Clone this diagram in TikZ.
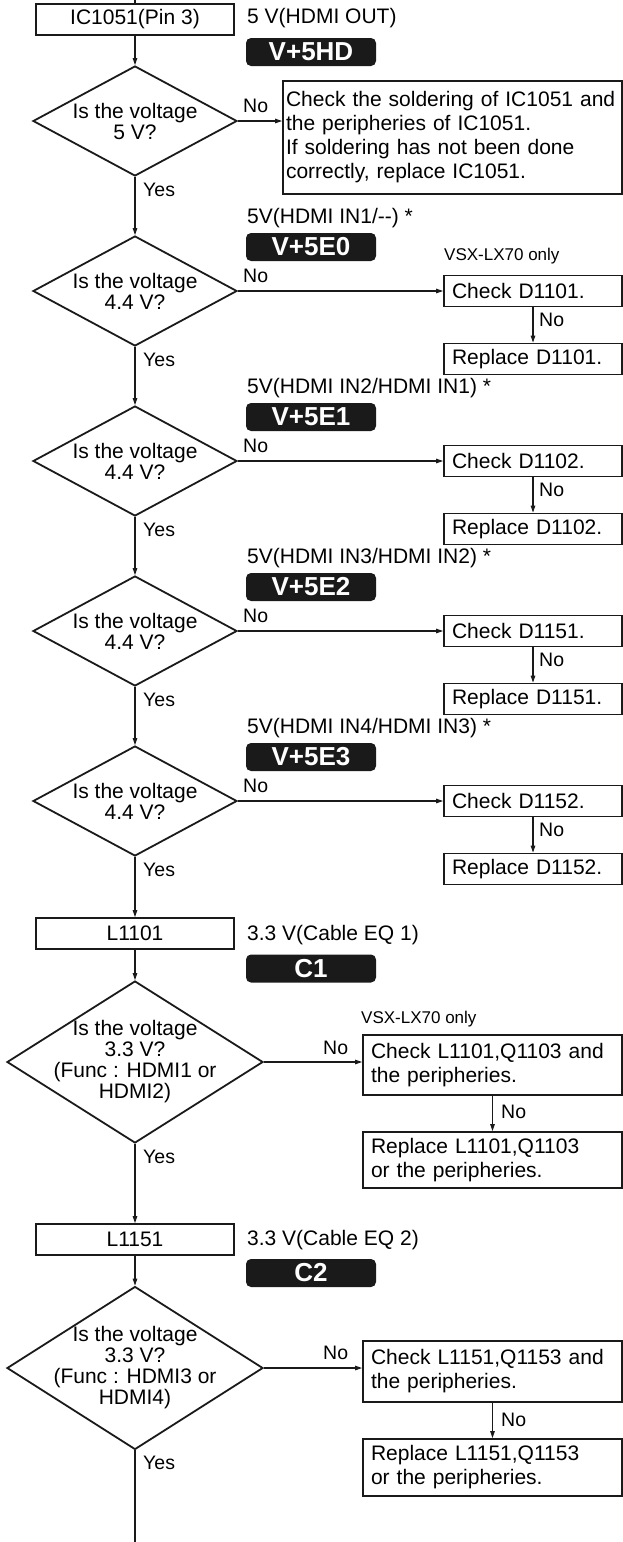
\documentclass[tikz,border=0pt]{standalone}
\usepackage{fontspec}
\setmainfont{Liberation Sans}
\usetikzlibrary{arrows.meta,shapes.geometric}
\definecolor{ink}{HTML}{1A1A1A}

\begin{document}
\begin{tikzpicture}[
  x=1pt, y=-1pt,
  >={Triangle[length=7pt,width=4.5pt]},
  stepbox/.style={draw=ink, line width=1.8pt, minimum width=198pt,
                  minimum height=31pt, inner sep=0pt,
                  font=\fontsize{21}{24}\selectfont},
  chk/.style={draw=ink, line width=1.8pt, align=left, inner xsep=8pt,
              inner ysep=0pt, font=\fontsize{21}{24}\selectfont},
  dia/.style={draw=ink, diamond, line width=1.8pt, inner sep=0pt},
  qtext/.style={align=center, inner sep=0pt,
                font=\fontsize{21}{21}\selectfont},
  tag/.style={fill=ink, rounded corners=5pt, minimum width=130pt,
              minimum height=28pt, inner sep=0pt, text=white,
              font=\fontsize{26}{26}\selectfont\bfseries},
  volt/.style={anchor=west, inner sep=0pt,
               font=\fontsize{21}{24}\selectfont},
  ans/.style={anchor=west, inner sep=0pt,
              font=\fontsize{19.5}{20}\selectfont},
  model/.style={anchor=west, inner sep=0pt,
                font=\fontsize{17}{18}\selectfont},
  flow/.style={->, line width=1.1pt, draw=ink},
  wire/.style={line width=1.1pt, draw=ink},
]
\useasboundingbox (0,0) rectangle (623,1542);

% IC1051 / V+5HD
\coordinate (in) at (135,0);
\node[stepbox] (ic) at (135,19.5) {IC1051(Pin 3)};
\node[volt] (v0) at (247,18) {5 V(HDMI OUT)};
\node[tag] (t0) at (311,52) {V+5HD};
\node[dia, minimum width=204pt, minimum height=110pt] (q1) at (135,121) {};
\node[qtext] (q1t) at (q1) {Is the voltage\\5 V?};
\node[ans] (n1) at (243,106) {No};
\node[chk, inner xsep=3pt, text width=333pt, minimum height=113pt] (c1)
  at (452.5,137.5)
  {Check the soldering of IC1051 and\\ the peripheries of IC1051.\\
   If soldering has not been done\\ correctly, replace IC1051.};
\node[ans] (y1) at (143,190) {Yes};

% V+5E0
\node[volt] (v1) at (247,218) {5V(HDMI IN1/-{}-) *};
\node[tag] (t1) at (311,247) {V+5E0};
\node[dia, minimum width=204pt, minimum height=110pt] (q2) at (135,291) {};
\node[qtext] (q2t) at (q2) {Is the voltage\\4.4 V?};
\node[ans] (n2) at (243,276) {No};
\node[model] (m2) at (444,256) {VSX-LX70 only};
\node[chk, text width=162pt, minimum height=31pt] (c2) at (533,291) {Check D1101.};
\node[ans] (n2b) at (539,320) {No};
\node[chk, text width=162pt, minimum height=31pt] (r2) at (533,359) {Replace D1101.};
\node[ans] (y2) at (143,360) {Yes};

% V+5E1
\node[volt] (v2) at (247,388) {5V(HDMI IN2/HDMI IN1) *};
\node[tag] (t2) at (311,417) {V+5E1};
\node[dia, minimum width=204pt, minimum height=110pt] (q3) at (135,461) {};
\node[qtext] (q3t) at (q3) {Is the voltage\\4.4 V?};
\node[ans] (n3) at (243,446) {No};
\node[chk, text width=162pt, minimum height=31pt] (c3) at (533,461) {Check D1102.};
\node[ans] (n3b) at (539,490) {No};
\node[chk, text width=162pt, minimum height=31pt] (r3) at (533,529) {Replace D1102.};
\node[ans] (y3) at (143,530) {Yes};

% V+5E2
\node[volt] (v3) at (247,558) {5V(HDMI IN3/HDMI IN2) *};
\node[tag] (t3) at (311,587) {V+5E2};
\node[dia, minimum width=204pt, minimum height=110pt] (q4) at (135,631) {};
\node[qtext] (q4t) at (q4) {Is the voltage\\4.4 V?};
\node[ans] (n4) at (243,616) {No};
\node[chk, text width=162pt, minimum height=31pt] (c4) at (533,631) {Check D1151.};
\node[ans] (n4b) at (539,660) {No};
\node[chk, text width=162pt, minimum height=31pt] (r4) at (533,699) {Replace D1151.};
\node[ans] (y4) at (143,700) {Yes};

% V+5E3
\node[volt] (v4) at (247,728) {5V(HDMI IN4/HDMI IN3) *};
\node[tag] (t4) at (311,757) {V+5E3};
\node[dia, minimum width=204pt, minimum height=110pt] (q5) at (135,801) {};
\node[qtext] (q5t) at (q5) {Is the voltage\\4.4 V?};
\node[ans] (n5) at (243,786) {No};
\node[chk, text width=162pt, minimum height=31pt] (c5) at (533,801) {Check D1152.};
\node[ans] (n5b) at (539,830) {No};
\node[chk, text width=162pt, minimum height=31pt] (r5) at (533,869) {Replace D1152.};
\node[ans] (y5) at (143,870) {Yes};

% cable EQ 1
\node[stepbox] (l1) at (135,933.5) {L1101};
\node[volt] (v5) at (247,935) {3.3 V(Cable EQ 1)};
\node[tag] (t5) at (311,968.5) {C1};
\node[dia, minimum width=256pt, minimum height=162pt] (q6) at (135,1062) {};
\node[qtext] (q6t) at (q6) {Is the voltage\\3.3 V?\\(Func : HDMI1 or\\HDMI2)};
\node[ans] (n6) at (323,1048) {No};
\node[model] (m6) at (361,1019) {VSX-LX70 only};
\node[chk, text width=243pt, minimum height=60pt] (c6) at (492.5,1065)
  {Check L1101,Q1103 and\\the peripheries.};
\node[ans] (n6b) at (501,1112) {No};
\node[chk, text width=243pt, minimum height=56pt] (r6) at (492.5,1160)
  {Replace L1101,Q1103\\or the peripheries.};
\node[ans] (y6) at (143,1157) {Yes};

% cable EQ 2
\node[stepbox] (l2) at (135,1239.5) {L1151};
\node[volt] (v6) at (247,1240) {3.3 V(Cable EQ 2)};
\node[tag] (t6) at (311,1273) {C2};
\node[dia, minimum width=256pt, minimum height=163pt] (q7) at (135,1368) {};
\node[qtext] (q7t) at (q7) {Is the voltage\\3.3 V?\\(Func : HDMI3 or\\HDMI4)};
\node[ans] (n7) at (323,1353) {No};
\node[chk, text width=243pt, minimum height=61pt] (c7) at (492.5,1371.5)
  {Check L1151,Q1153 and\\the peripheries.};
\node[ans] (n7b) at (501,1420) {No};
\node[chk, text width=243pt, minimum height=57pt] (r7) at (492.5,1467.5)
  {Replace L1151,Q1153\\or the peripheries.};
\node[ans] (y7) at (143,1463) {Yes};
\coordinate (out) at (135,1542);

\draw[wire] (in) -- (ic);
\draw[flow] (ic) -- (q1);
\draw[flow] (q1.east) -- (q1.east -| c1.west);
\draw[flow] (q1) -- (q2);
\draw[flow] (q2) -- (c2);
\draw[flow] (c2) -- (r2);
\draw[flow] (q2) -- (q3);
\draw[flow] (q3) -- (c3);
\draw[flow] (c3) -- (r3);
\draw[flow] (q3) -- (q4);
\draw[flow] (q4) -- (c4);
\draw[flow] (c4) -- (r4);
\draw[flow] (q4) -- (q5);
\draw[flow] (q5) -- (c5);
\draw[flow] (c5) -- (r5);
\draw[flow] (q5) -- (l1);
\draw[flow] (l1) -- (q6);
\draw[flow] (q6.east) -- (q6.east -| c6.west);
\draw[flow] (c6) -- (r6);
\draw[flow] (q6) -- (l2);
\draw[flow] (l2) -- (q7);
\draw[flow] (q7.east) -- (q7.east -| c7.west);
\draw[flow] (c7) -- (r7);
\draw[wire] (q7) -- (out);
\end{tikzpicture}
\end{document}
